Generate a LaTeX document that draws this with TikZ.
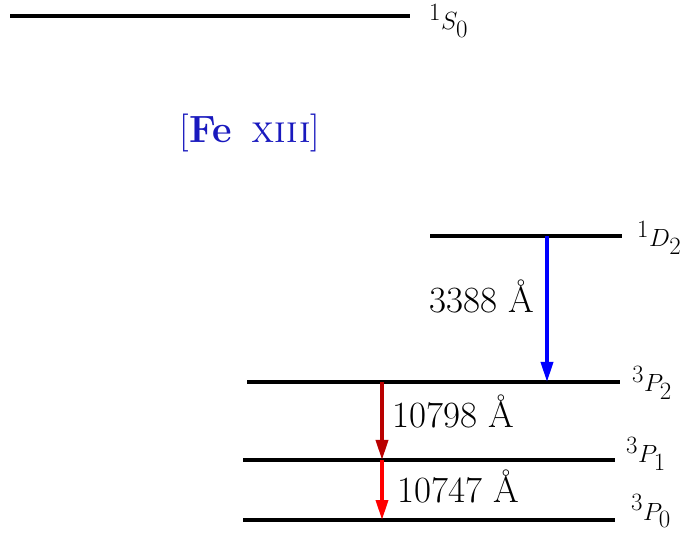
\documentclass[tikz,border=0pt]{standalone}
\usetikzlibrary{arrows.meta}
\definecolor{titleblue}{RGB}{25,25,190}
\definecolor{darkred}{RGB}{185,0,0}
\definecolor{pureblue}{RGB}{0,0,255}
\definecolor{purered}{RGB}{255,0,0}
\begin{document}
\begin{tikzpicture}[x=1pt,y=-1pt,
  level/.style={line width=4pt},
  lvlabel/.style={anchor=base west,inner sep=0pt,font=\fontsize{34}{38}\selectfont},
  wavelabel/.style={inner sep=0pt,font=\fontsize{37}{42}\selectfont},
  trans/.style={line width=3.5pt,-{Triangle[length=20pt,width=12pt]}}]
\useasboundingbox (0,0) rectangle (683,534);
% levels
\coordinate (S0a) at (10,16);  \coordinate (S0b) at (410,16);
\coordinate (D2a) at (430,236); \coordinate (D2b) at (622,236);
\coordinate (P2a) at (247,382); \coordinate (P2b) at (620,382);
\coordinate (P1a) at (243,460); \coordinate (P1b) at (615,460);
\coordinate (P0a) at (243,520); \coordinate (P0b) at (615,520);
\draw[level] (S0a) -- (S0b);
\draw[level] (D2a) -- (D2b);
\draw[level] (P2a) -- (P2b);
\draw[level] (P1a) -- (P1b);
\draw[level] (P0a) -- (P0b);
% level labels
\node[lvlabel] (lS0) at (429,30) {$^1S_0$};
\node[lvlabel] (lD2) at (637,247) {$^1D_2$};
\node[lvlabel] (lP2) at (632,392) {$^3P_2$};
\node[lvlabel] (lP1) at (626,463) {$^3P_1$};
\node[lvlabel] (lP0) at (631,520) {$^3P_0$};
% title
\node[inner sep=0pt,text=titleblue,font=\fontsize{38}{42}\selectfont] (title) at (250,133) {[\textbf{Fe}\hspace{0.5em}\textsc{xiii}]};
% transitions
\coordinate (t1s) at (547,236); \coordinate (t1e) at (547,382);
\coordinate (t2s) at (382,382); \coordinate (t2e) at (382,460);
\coordinate (t3s) at (382,460); \coordinate (t3e) at (382,520);
\draw[trans,pureblue] (t1s) -- (t1e);
\draw[trans,darkred] (t2s) -- (t2e);
\draw[trans,purered] (t3s) -- (t3e);
% wavelength labels
\node[wavelabel,anchor=base east] (w1) at (534,313) {3388 \AA};
\node[wavelabel,anchor=base west] (w2) at (392,428) {10798 \AA};
\node[wavelabel,anchor=base west] (w3) at (397,502) {10747 \AA};
\end{tikzpicture}
\end{document}
